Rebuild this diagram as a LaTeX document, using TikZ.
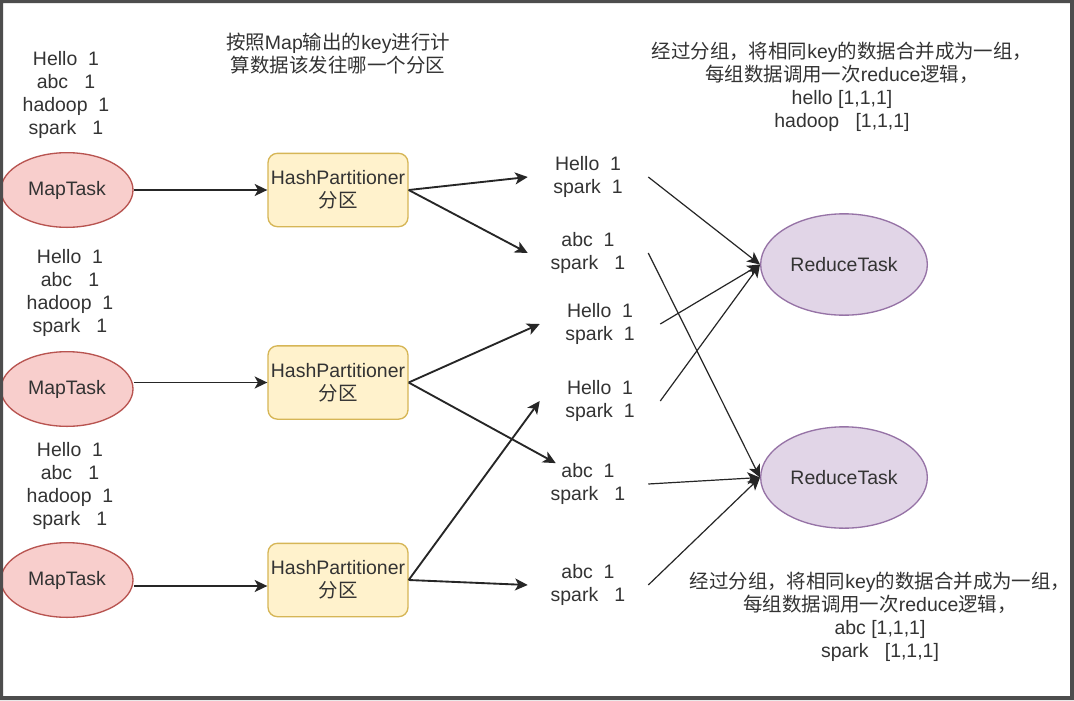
\documentclass[tikz,border=0pt]{standalone}
\usepackage{fontspec}
\setmainfont{Liberation Sans}
\newfontfamily\cjk{Noto Sans CJK SC}
\usepackage{tikz}
\usetikzlibrary{arrows.meta,shapes.geometric}
\definecolor{rojoMap}{HTML}{F8CECC}
\definecolor{rojoMapBorde}{HTML}{B85450}
\definecolor{amarilloHash}{HTML}{FFF2CC}
\definecolor{amarilloHashBorde}{HTML}{D6B656}
\definecolor{moradoReduce}{HTML}{E1D5E7}
\definecolor{moradoReduceBorde}{HTML}{9673A6}
\definecolor{textoGris}{HTML}{333333}
\definecolor{marcoGris}{HTML}{4D4D4D}

\begin{document}
\begin{tikzpicture}[x=0.75pt, y=-0.75pt,
    font=\fontsize{14.6}{17.3}\selectfont,
    mapa/.style={ellipse, draw=rojoMapBorde, line width=1pt, fill=rojoMap,
                 minimum width=99pt, minimum height=56pt, inner sep=0pt, text=textoGris},
    reduccion/.style={ellipse, draw=moradoReduceBorde, line width=1pt, fill=moradoReduce,
                 minimum width=125pt, minimum height=76pt, inner sep=0pt, text=textoGris},
    particion/.style={rectangle, rounded corners=7pt, draw=amarilloHashBorde, line width=1pt,
                 fill=amarilloHash, minimum width=105pt, minimum height=55pt, inner sep=0pt,
                 align=center, text=textoGris},
    datos/.style={align=center, inner sep=0pt, text=textoGris},
    pareja/.style={datos, minimum width=90pt},
    flecha/.style={line width=1.4pt, draw=black!85, -{Stealth[length=9.5pt,width=9pt,inset=2.5pt]}},
    flechafina/.style={flecha, line width=0.9pt}
  ]
  \fill[white] (0,0) rectangle (1074,700);
  \useasboundingbox (0,0) rectangle (1074,700);

  \node[mapa] (map1) at (67,190) {MapTask};
  \node[mapa] (map2) at (67,389) {MapTask};
  \node[mapa] (map3) at (67,580) {MapTask};

  \node[datos] (datos1) at (66,95) {Hello\ \ 1\\abc\ \ \ 1\\hadoop\ \ 1\\spark\ \ \ 1};
  \node[datos] (datos2) at (70,293) {Hello\ \ 1\\abc\ \ \ 1\\hadoop\ \ 1\\spark\ \ \ 1};
  \node[datos] (datos3) at (70,486) {Hello\ \ 1\\abc\ \ \ 1\\hadoop\ \ 1\\spark\ \ \ 1};

  \node[particion] (part1) at (338,190) {HashPartitioner\\{\cjk 分区}};
  \node[particion] (part2) at (338,382.5) {HashPartitioner\\{\cjk 分区}};
  \node[particion] (part3) at (338,580) {HashPartitioner\\{\cjk 分区}};

  \node[datos] (nota1) at (338,54)
    {{\cjk 按照}Map{\cjk 输出的}key{\cjk 进行计}\\{\cjk 算数据该发往哪一个分区}};

  \node[pareja] (par1) at (588,177) {Hello\ \ 1\\spark\ \ 1};
  \node[pareja] (par2) at (588,253) {abc\ \ 1\\spark\ \ \ 1};
  \node[pareja] (par3) at (600,324) {Hello\ \ 1\\spark\ \ 1};
  \node[pareja] (par4) at (600,401) {Hello\ \ 1\\spark\ \ 1};
  \node[pareja] (par5) at (588,484) {abc\ \ 1\\spark\ \ \ 1};
  \node[pareja] (par6) at (588,585) {abc\ \ 1\\spark\ \ \ 1};

  \node[reduccion] (red1) at (844,264.5) {ReduceTask};
  \node[reduccion] (red2) at (844,477.5) {ReduceTask};

  \node[datos] (nota2) at (842,87)
    {{\cjk 经过分组，将相同}key{\cjk 的数据合并成为一组，}\\
     {\cjk 每组数据调用一次}reduce{\cjk 逻辑，}\\
     hello [1,1,1]\\hadoop\ \ \ [1,1,1]};
  \node[datos] (nota3) at (880,617)
    {{\cjk 经过分组，将相同}key{\cjk 的数据合并成为一组，}\\
     {\cjk 每组数据调用一次}reduce{\cjk 逻辑，}\\
     abc [1,1,1]\\spark\ \ \ [1,1,1]};

  % map -> particion
  \draw[flecha] (map1) -- (part1);
  \draw[flecha] (map2.east |- part2.west) -- (part2.west);
  \draw[flecha] ([yshift=-4.5pt]map3.east) -- ([yshift=-4.5pt]part3.west);

  % particion -> datos
  \draw[flecha] (part1.east) -- (par1.west);
  \draw[flecha] (part1.east) -- (par2.west);
  \draw[flecha] (part2.east) -- (par3.west);
  \draw[flecha] (part2.east) -- ([xshift=21pt]par5.north west);
  \draw[flecha] (part3.east) -- (par4.west);
  \draw[flecha] (part3.east) -- (par6.west);

  % datos -> reduce
  \foreach \p in {1,3,4} {
    \draw[flechafina] (par\p.east) -- (red1.west);
  }
  \foreach \p in {2,5,6} {
    \draw[flechafina] (par\p.east) -- (red2.west);
  }

  \fill[marcoGris, even odd rule] (0,0) rectangle (1074,700) (3,3) rectangle (1070,696);
\end{tikzpicture}
\end{document}
